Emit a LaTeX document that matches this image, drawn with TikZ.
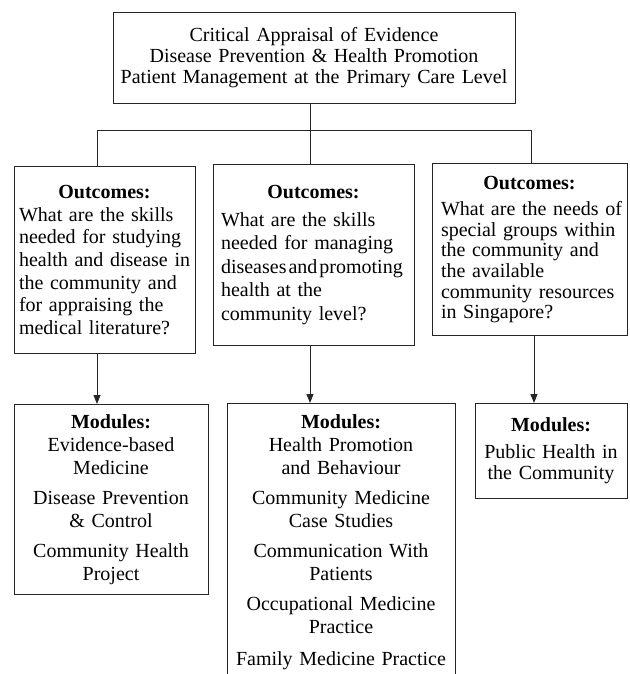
\documentclass[tikz,border=0pt]{standalone}
\usepackage{fontspec}
\setmainfont{Liberation Serif}
\usetikzlibrary{arrows.meta}

\begin{document}
\begin{tikzpicture}[x=1pt, y=-1pt, auto,
    box/.style ={rectangle, draw=black!85, line width=0.9pt, anchor=north, inner ysep=0pt},
    outcome/.style ={box, align=left, font=\fontsize{20}{22.7}\selectfont},
    module/.style ={box, align=center, font=\fontsize{20}{23}\selectfont},
    link/.style ={line width=0.9pt, draw=black!85},
    arrow/.style ={link, -{Triangle[length=9pt, width=7pt]}}]
   \useasboundingbox (0,0) rectangle (629,674);

   % top box
   \node[box, align=center, inner xsep=6pt, text width=390pt, minimum height=91pt,
         font=\fontsize{20}{21}\selectfont] (T) at (314,12)
        {Critical Appraisal of Evidence\\ Disease Prevention \& Health Promotion\\ Patient Management at the Primary Care Level};

   % outcomes
   \node[outcome, inner xsep=5pt, text width=171pt, minimum height=187pt] (O1) at (104.5,166)
        {{\centering\bfseries Outcomes:\par}What are the skills\\ \mbox{needed for studying}\\ \mbox{health and disease in}\\ the community and\\ for appraising the\\ \mbox{medical literature?}};
   \node[outcome, inner xsep=8pt, text width=185pt, minimum height=181pt,
         font=\fontsize{20}{23.5}\selectfont] (O2) at (313.5,164)
        {{\centering\bfseries Outcomes:\par}\vspace{4pt}What are the skills\\ \mbox{needed for managing}\\ \mbox{\spaceskip=2pt diseases and promoting}\\ health at the\\ community level?};
   \node[outcome, inner xsep=9pt, text width=177pt, minimum height=172pt,
         font=\fontsize{20}{20.6}\selectfont] (O3) at (529.5,163)
        {{\centering\bfseries Outcomes:\par}\vspace{6pt}\mbox{What are the needs of}\\ \mbox{special groups within}\\ the community and\\ the available\\ \mbox{community resources}\\ in Singapore?};

   % modules
   \node[module, inner xsep=6pt, text width=182pt, minimum height=190pt] (M1) at (111,404)
        {\textbf{Modules:}\\ Evidence-based\\ Medicine\\[7pt] Disease Prevention\\ \& Control\\[7pt] Community Health\\ Project};
   \node[module, inner xsep=6pt, text width=216pt, minimum height=278pt] (M2) at (341,403)
        {\textbf{Modules:}\\ Health Promotion\\ and Behaviour\\[7pt] Community Medicine\\ Case Studies\\[7pt] Communication With\\ Patients\\[7pt] Occupational Medicine\\ Practice\\[9pt] Family Medicine Practice};
   \node[module, inner xsep=6pt, text width=140pt, minimum height=95pt,
         font=\fontsize{20}{21}\selectfont] (M3) at (551,403)
        {\textbf{Modules:}\\[6pt] Public Health in\\ the Community};

   \coordinate (J1) at (97,130);
   \coordinate (J2) at (310,130);
   \coordinate (J3) at (531,130);
   \coordinate (A3) at (534,130);

   \draw[link] (T.south -| J2) to (J2);
   \draw[link] (J1) to (J3);
   \draw[link] (J1) to (J1 |- O1.north);
   \draw[link] (J2) to (J2 |- O2.north);
   \draw[link] (J3) to (J3 |- O3.north);

   \draw[arrow] (O1.south -| J1) to (M1.north -| J1);
   \draw[arrow] (O2.south -| J2) to (M2.north -| J2);
   \draw[arrow] (O3.south -| A3) to (M3.north -| A3);
 \end{tikzpicture}
\end{document}
